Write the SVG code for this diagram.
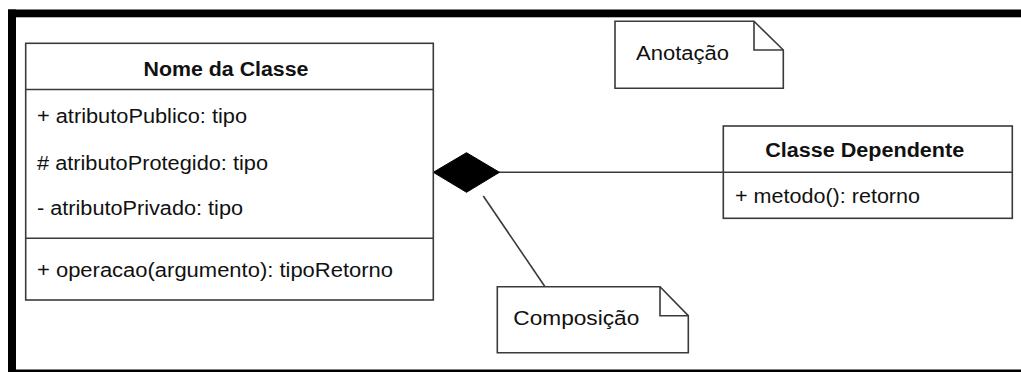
<svg xmlns="http://www.w3.org/2000/svg" width="1021" height="372" viewBox="0 0 1021 372">
  <style>
    .box { fill: #ffffff; stroke: #3a3a3a; stroke-width: 1.6; }
    .sep { stroke: #3a3a3a; stroke-width: 1.6; fill: none; }
    .link { stroke: #3a3a3a; stroke-width: 1.6; fill: none; }
    .title { font-family: "Liberation Sans", Arial, sans-serif; font-weight: bold; font-size: 20px; fill: #111111; text-anchor: middle; }
    .member { font-family: "Liberation Sans", Arial, sans-serif; font-size: 20px; fill: #111111; }
    .note { fill: #ffffff; stroke: #3a3a3a; stroke-width: 1.6; stroke-linejoin: miter; }
  </style>

  <!-- white page with heavy frame -->
  <rect x="0" y="0" width="1021" height="372" fill="#ffffff"/>
  <g id="frame" fill="#000000">
    <rect x="8" y="9.5" width="1013" height="7.8"/>
    <rect x="8" y="9.5" width="8" height="362.5"/>
    <rect x="8" y="369.5" width="1013" height="2.5"/>
  </g>

  <!-- connectors -->
  <g id="connectors">
    <line class="link" x1="499" y1="172.3" x2="723.3" y2="172.3"/>
    <polygon points="433.3,172.3 466.5,152.7 499.5,172.3 466.5,192.3" fill="#000000" stroke="#000000" stroke-width="1"/>
    <line class="link" x1="483.3" y1="196" x2="545" y2="286.7"/>
  </g>

  <!-- main class -->
  <g id="nome-da-classe">
    <rect class="box" x="25.7" y="43.3" width="407.6" height="256.7"/>
    <line class="sep" x1="25.7" y1="89.5" x2="433.3" y2="89.5"/>
    <line class="sep" x1="25.7" y1="238.3" x2="433.3" y2="238.3"/>
    <text class="title" x="226" y="76" textLength="165" lengthAdjust="spacingAndGlyphs">Nome da Classe</text>
    <text class="member" x="37" y="123.3" textLength="210" lengthAdjust="spacingAndGlyphs">+ atributoPublico: tipo</text>
    <text class="member" x="37" y="169.5" textLength="231" lengthAdjust="spacingAndGlyphs"># atributoProtegido: tipo</text>
    <text class="member" x="37" y="215" textLength="206" lengthAdjust="spacingAndGlyphs">- atributoPrivado: tipo</text>
    <text class="member" x="37" y="277.3" textLength="356" lengthAdjust="spacingAndGlyphs">+ operacao(argumento): tipoRetorno</text>
  </g>

  <!-- dependent class -->
  <g id="classe-dependente">
    <rect class="box" x="723.3" y="126" width="289" height="92.3"/>
    <line class="sep" x1="723.3" y1="172.3" x2="1012.3" y2="172.3"/>
    <text class="title" x="864.7" y="157" textLength="199" lengthAdjust="spacingAndGlyphs">Classe Dependente</text>
    <text class="member" x="735" y="202.5" textLength="185" lengthAdjust="spacingAndGlyphs">+ metodo(): retorno</text>
  </g>

  <!-- annotation note -->
  <g id="anotacao">
    <path class="note" d="M615,21.3 H754 L783.3,50 V88.3 H615 Z"/>
    <path class="sep" d="M754,21.3 V50 H783.3"/>
    <text class="member" x="636" y="59.5" textLength="93" lengthAdjust="spacingAndGlyphs">Anotação</text>
  </g>

  <!-- composition note -->
  <g id="composicao">
    <path class="note" d="M497.3,286.7 H660 L688.3,315.7 V352.7 H497.3 Z"/>
    <path class="sep" d="M660,286.7 V315.7 H688.3"/>
    <text class="member" x="513.3" y="325" textLength="126" lengthAdjust="spacingAndGlyphs">Composição</text>
  </g>
</svg>
